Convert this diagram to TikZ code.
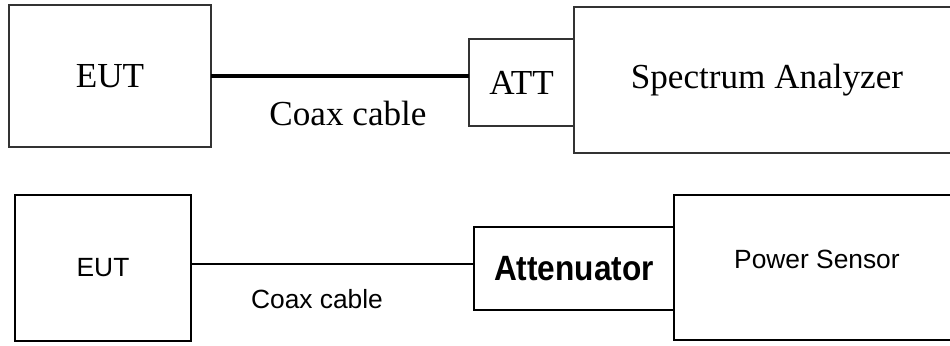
\documentclass[tikz,border=0pt]{standalone}
\usepackage{fontspec}
\setmainfont{Liberation Serif}
\newfontfamily\arialfont{Liberation Sans}
\newfontfamily\narrowfont[FakeStretch=0.9]{Liberation Sans}
\usetikzlibrary{
    positioning
}
\tikzset{%
    serif box/.style={%
        rectangle,
        draw=black!80,
        line width=0.8pt,
        inner sep = 0pt,
        outer sep = 0pt,
        font=\fontsize{20}{24}\selectfont
    },
    sans box/.style={%
        rectangle,
        draw=black,
        line width=1.2pt,
        inner sep = 0pt,
        outer sep = 0pt,
        font=\arialfont\fontsize{15}{18}\selectfont
    },
    thick cable/.style={%
        line width=2pt,
    },
    thin cable/.style={%
        line width=0.8pt,
    },
}

\begin{document}
\begin{tikzpicture}[x=0.02cm, y=-0.02cm]

    \useasboundingbox (0,0) rectangle (950,345);
    \clip (0,0) rectangle (950,345);

    % upper set-up
    \node[serif box, minimum width=4.04cm, minimum height=2.84cm] (EUT1) at (110,76) {EUT};
    \node[serif box, minimum width=2.1cm, minimum height=1.74cm] (ATT) at (521.5,82.5) {ATT};
    \node[serif box, minimum width=7.72cm, minimum height=2.92cm, anchor=west] (analyzer) at (ATT.east |- 0,80) {Spectrum Analyzer};

    \draw[thick cable] (EUT1.east) -- (EUT1.east -| ATT.west);
    \node[font=\fontsize{20}{24}\selectfont] (coax1) at (348,113) {Coax cable};

    % lower set-up
    \node[sans box, minimum width=3.52cm, minimum height=2.92cm] (EUT2) at (103,268) {EUT};
    \node[sans box, minimum width=4cm, minimum height=1.66cm,
        font=\narrowfont\bfseries\fontsize{20}{24}\selectfont] (attenuator) at (574,268.5) {Attenuator};
    \node[sans box, minimum width=5.72cm, minimum height=2.9cm, anchor=west,
        label={[yshift=0.17cm, font=\arialfont\fontsize{15}{18}\selectfont]center:Power Sensor}] (sensor) at (attenuator.east |- 0,267.5) {};

    \draw[thin cable] (EUT2.east |- 0,264) -- (attenuator.west |- 0,264);
    \node[font=\arialfont\fontsize{15}{18}\selectfont] (coax2) at (317,299) {Coax cable};
\end{tikzpicture}
\end{document}
